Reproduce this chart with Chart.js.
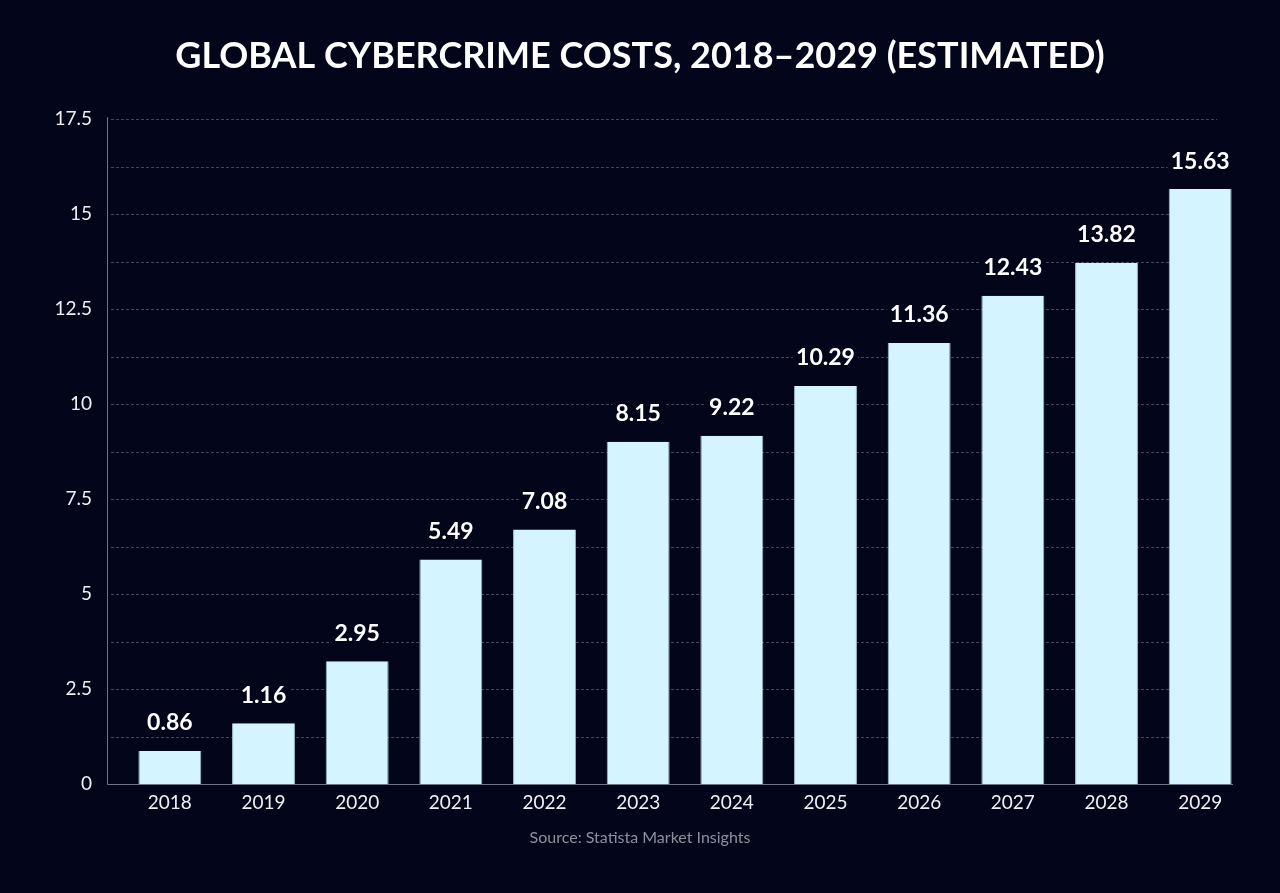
<!DOCTYPE html>
<html>
<head>
<meta charset="utf-8">
<script src="https://cdn.jsdelivr.net/npm/chart.js@4.4.1/dist/chart.umd.min.js"></script>
<style>
  html, body { margin: 0; padding: 0; background: #03061a; }
  #wrap { width: 1280px; height: 893px; }
</style>
</head>
<body>
<div id="wrap"><canvas id="myChart" width="1280" height="893"></canvas></div>
<script>
// values
const years = ["2018", "2019", "2020", "2021", "2022", "2023", "2024", "2025", "2026", "2027", "2028", "2029"];
const barHeights = [0.87, 1.6, 3.23, 5.91, 6.70, 9.01, 9.17, 10.48, 11.61, 12.85, 13.72, 15.66];
const valueLabels = ["0.86", "1.16", "2.95", "5.49", "7.08", "8.15", "9.22", "10.29", "11.36", "12.43", "13.82", "15.63"];
const yMax = 17.5;
const yStep = 1.25;

const bg = "#03061a";

// dashed grid + axis lines, drawn a bit wider than the chart area like the original
const gridPlugin = {
	id: 'gridLines',
	beforeDatasetsDraw(chart) {
		const ctx = chart.ctx;
		const y = chart.scales.y;
		const area = chart.chartArea;
		ctx.save();
		ctx.lineWidth = 1;
		ctx.strokeStyle = "rgba(120,125,145,0.55)";
		ctx.setLineDash([3, 2]);
		y.ticks.forEach((t) => {
			if (t.value === 0) return;
			const py = Math.round(y.getPixelForValue(t.value)) + 0.5;
			ctx.beginPath();
			ctx.moveTo(area.left - 12, py);
			ctx.lineTo(area.right - 30, py);
			ctx.stroke();
		});
		ctx.setLineDash([]);
		ctx.strokeStyle = "rgba(140,145,160,0.8)";
		const x0 = Math.round(area.left - 16) + 0.5;
		const y0 = Math.round(y.getPixelForValue(0)) + 0.5;
		ctx.beginPath();
		ctx.moveTo(x0, y.getPixelForValue(yMax) - 2);
		ctx.lineTo(x0, y0);
		ctx.lineTo(area.right - 14, y0);
		ctx.stroke();
		ctx.restore();
	}
};

// value labels above bars, with a dark box behind so the grid doesn't show through
const labelPlugin = {
	id: 'valueLabels',
	afterDatasetsDraw(chart) {
		const ctx = chart.ctx;
		const meta = chart.getDatasetMeta(0);
		ctx.save();
		ctx.font = "bold 23px Lato";
		ctx.textAlign = "center";
		ctx.textBaseline = "middle";
		meta.data.forEach((bar, i) => {
			const txt = valueLabels[i];
			const w = ctx.measureText(txt).width;
			const ly = bar.y - 28;
			ctx.fillStyle = bg;
			ctx.fillRect(bar.x - w / 2 - 3, ly - 13, w + 6, 26);
			ctx.fillStyle = "#ffffff";
			ctx.fillText(txt, bar.x, ly);
		});
		ctx.restore();
	}
};

const bgPlugin = {
	id: 'bg',
	beforeDraw(chart) {
		const ctx = chart.ctx;
		ctx.save();
		ctx.fillStyle = bg;
		ctx.fillRect(0, 0, chart.width, chart.height);
		ctx.restore();
	}
};

new Chart("myChart", {
	type: 'bar',
	data: {
		labels: years,
		datasets: [{
			data: barHeights,
			backgroundColor: "#d4f5ff",
			borderColor: "#9fb8c4",
			borderWidth: { left: 1, right: 1, top: 0, bottom: 0 },
			borderSkipped: false,
			barPercentage: 0.672,
			categoryPercentage: 1.0
		}]
	},
	options: {
		responsive: false,
		animation: false,
		layout: { padding: { left: 33, right: 33, top: 0, bottom: 0 } },
		plugins: {
			legend: { display: false },
			tooltip: { enabled: false },
			title: {
				display: true,
				text: "GLOBAL CYBERCRIME COSTS, 2018\u20132029 (ESTIMATED)",
				color: "#ffffff",
				font: { family: "Lato", size: 36, weight: "bold" },
				padding: { top: 35, bottom: 41 }
			},
			subtitle: {
				display: true,
				position: 'bottom',
				text: "Source: Statista Market Insights",
				color: "#8d909c",
				font: { family: "Lato", size: 16 },
				padding: { top: 7, bottom: 46 }
			}
		},
		scales: {
			x: {
				grid: { display: false, drawTicks: false },
				border: { display: false },
				ticks: {
					color: "#f0f0f4",
					font: { family: "Lato", size: 19 },
					padding: 7,
					maxRotation: 0
				}
			},
			y: {
				min: 0,
				max: yMax,
				grid: { display: false, drawTicks: false },
				border: { display: false },
				afterFit(scale) { scale.width = 90; },
				ticks: {
					stepSize: yStep,
					color: "#f0f0f4",
					font: { family: "Lato", size: 19 },
					padding: 31,
					callback: (v) => (v % 2.5 === 0 ? String(v) : '')
				}
			}
		}
	},
	plugins: [bgPlugin, gridPlugin, labelPlugin]
});
</script>
</body>
</html>
